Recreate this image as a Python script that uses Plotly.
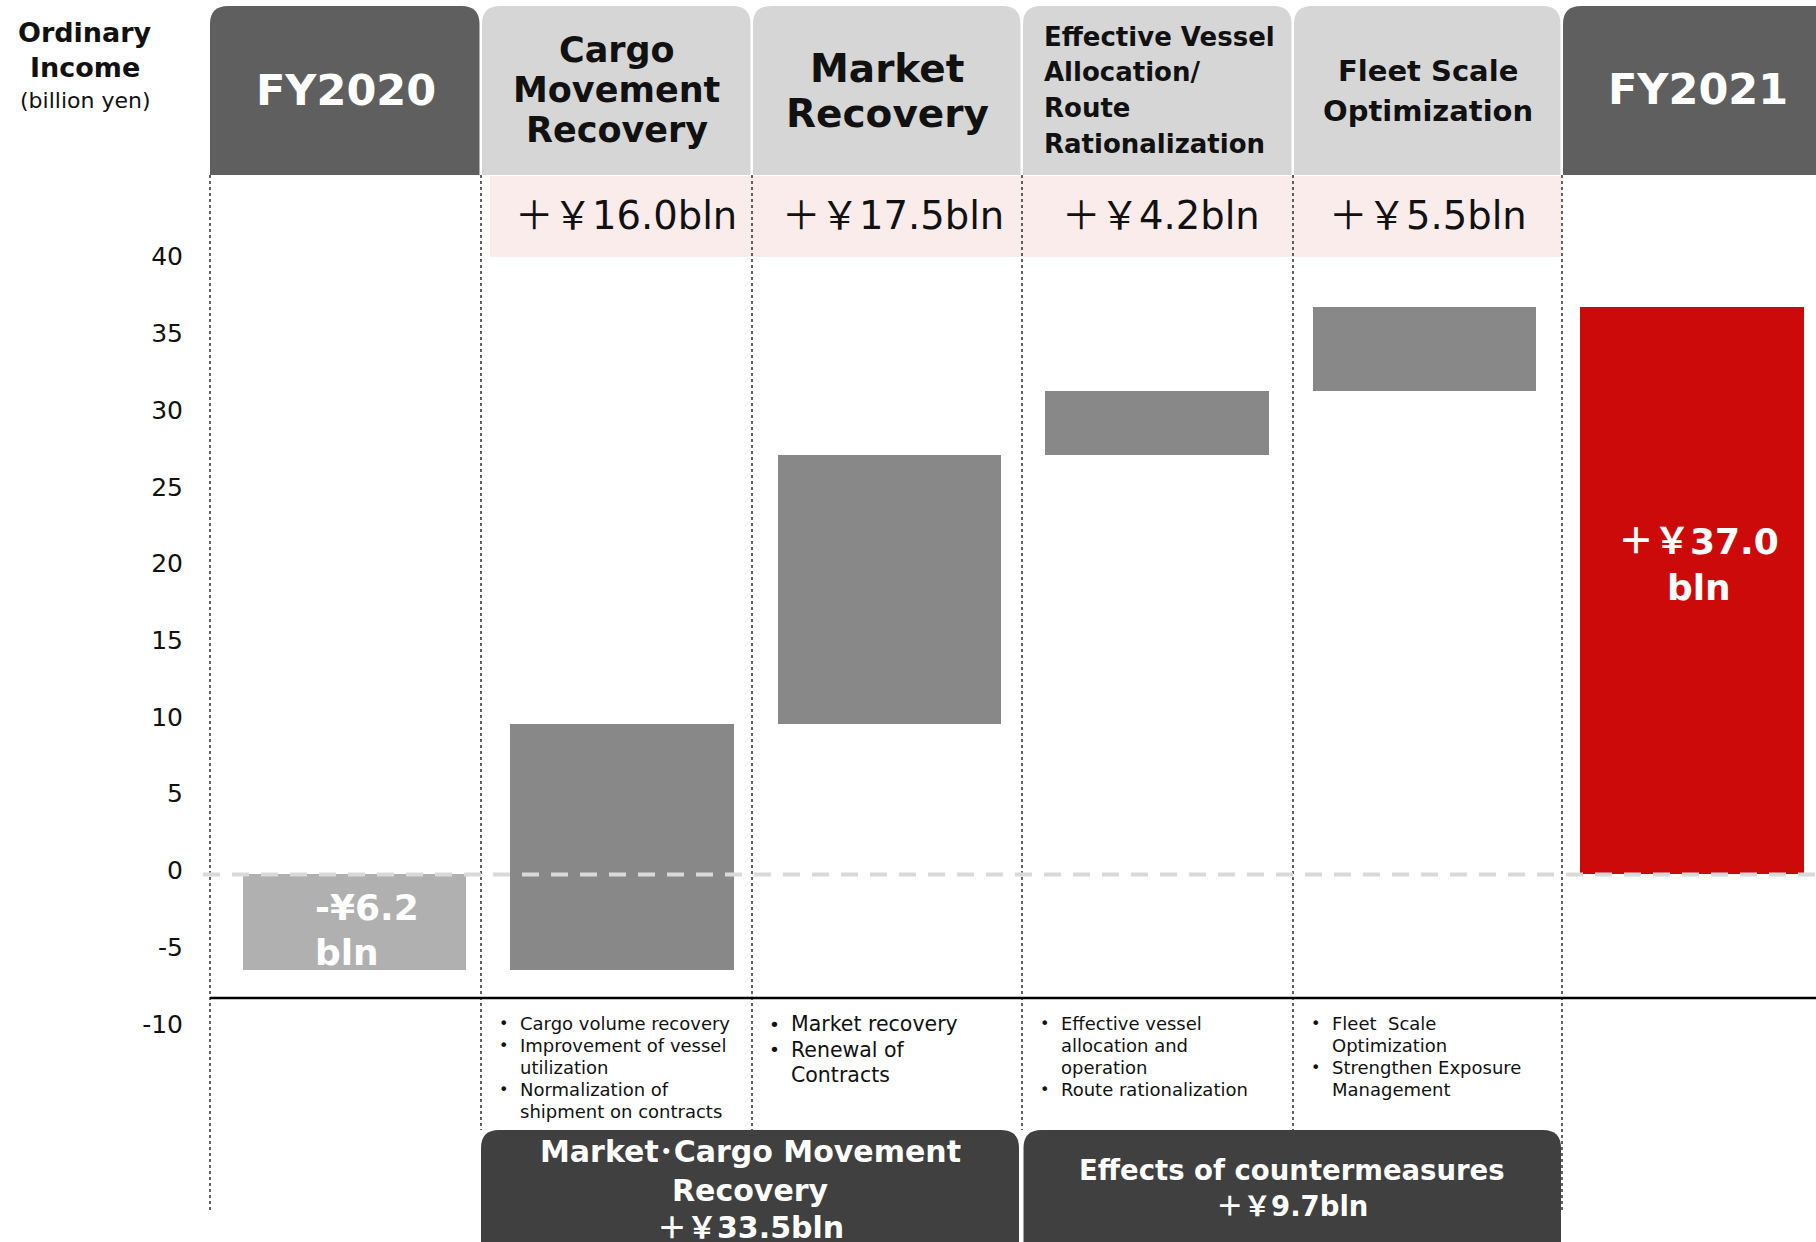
import numpy as np
import plotly.graph_objects as go

W, H = 1816, 1242

# ---------------- data ----------------
categories = ["FY2020", "Cargo Movement Recovery", "Market Recovery",
              "Effective Vessel Allocation/Route Rationalization",
              "Fleet Scale Optimization", "FY2021"]
header_lines = [["FY2020"], ["Cargo", "Movement", "Recovery"], ["Market", "Recovery"],
                ["Effective Vessel", "Allocation/", "Route", "Rationalization"],
                ["Fleet Scale", "Optimization"], ["FY2021"]]
fy2020_value = -6.2
change_values = [16.0, 17.5, 4.2, 5.5]
fy2021_value = 37.0
change_labels = ["＋￥16.0bln", "＋￥17.5bln", "＋￥4.2bln", "＋￥5.5bln"]
fy2020_label = ["-¥6.2", "bln"]
fy2021_label = ["＋￥37.0", "bln"]
bullet_points = [
    [],
    [["Cargo volume recovery"], ["Improvement of vessel", "utilization"],
     ["Normalization of", "shipment on contracts"]],
    [["Market recovery"], ["Renewal of", "Contracts"]],
    [["Effective vessel", "allocation and", "operation"], ["Route rationalization"]],
    [["Fleet  Scale", "Optimization"], ["Strengthen Exposure", "Management"]],
    [],
]
group_labels = [["Market･Cargo Movement", "Recovery", "＋￥33.5bln"],
                ["Effects of countermeasures", "＋￥9.7bln"]]
y_tick_values = [-10, -5, 0, 5, 10, 15, 20, 25, 30, 35, 40]
axis_title_lines = ["Ordinary", "Income", "(billion yen)"]

# ---------------- layout constants ----------------
FONT = "DejaVu Sans, Noto Sans CJK JP, sans-serif"
PLOT_L = 210
PLOT_W = W - PLOT_L
BAR0_PX, BAR_STEP_PX = 354.4, 267.5
X_RANGE = [(PLOT_L - BAR0_PX) / BAR_STEP_PX, (W - BAR0_PX) / BAR_STEP_PX]
Y_ZERO_PX = 874.4
PX_PER_UNIT = 15.346
Y_RANGE = [-(H - Y_ZERO_PX) / PX_PER_UNIT, Y_ZERO_PX / PX_PER_UNIT]
COL_EDGES = [210, 481, 752, 1022, 1293, 1562, 1834]


def PX(p):
    return (p - PLOT_L) / PLOT_W


def PY(p):
    return 1 - p / H


def rounded_top(x0, x1, y0, y1, r):
    return (f"M {PX(x0)},{PY(y1)} L {PX(x0)},{PY(y0 + r)} Q {PX(x0)},{PY(y0)} {PX(x0 + r)},{PY(y0)} "
            f"L {PX(x1 - r)},{PY(y0)} Q {PX(x1)},{PY(y0)} {PX(x1)},{PY(y0 + r)} L {PX(x1)},{PY(y1)} Z")


# ---------------- bars ----------------
changes = np.array(change_values)
cum = fy2020_value + np.cumsum(changes)
bases = [0.0] + list(cum - changes) + [0.0]
values = [fy2020_value] + list(changes) + [fy2021_value]
colors = ["#B0B0B0", "#888888", "#888888", "#888888", "#888888", "#CC0A0A"]
xpos = list(range(len(categories)))

fig = go.Figure()
fig.add_trace(go.Bar(x=xpos, y=values, base=bases, width=223.5 / BAR_STEP_PX,
                     marker=dict(color=colors, line=dict(width=0)),
                     hoverinfo="skip", showlegend=False))

shapes = []
ann = []
E = COL_EDGES

# pink band
shapes.append(dict(type="rect", xref="paper", yref="paper", x0=PX(E[1] + 9), x1=PX(E[5]),
                   y0=PY(257), y1=PY(176), fillcolor="#FBECEC", line=dict(width=0), layer="below"))

# header boxes
hdr_colors = ["#5F5F5F", "#D6D6D6", "#D6D6D6", "#D6D6D6", "#D6D6D6", "#5F5F5F"]
for i in range(6):
    x0 = E[i] + (0 if i == 0 else 1)
    x1 = E[i + 1] - 1.5
    shapes.append(dict(type="path", xref="paper", yref="paper", path=rounded_top(x0, x1, 6, 175, 18),
                       fillcolor=hdr_colors[i], line=dict(width=0)))

# dividers
for i in range(6):
    yb = 1210 if i in (0, 5) else 1130
    shapes.append(dict(type="line", xref="paper", yref="paper", x0=PX(E[i]), x1=PX(E[i]),
                       y0=PY(175), y1=PY(yb), line=dict(color="#222222", width=1.4, dash="dot")))

# bottom group boxes
box_px = [(E[1], E[3] - 3), (E[3] + 1.5, E[5] - 1)]
for (x0, x1) in box_px:
    shapes.append(dict(type="path", xref="paper", yref="paper", path=rounded_top(x0, x1, 1130, H + 30, 18),
                       fillcolor="#404040", line=dict(width=0)))

# black baseline
shapes.append(dict(type="line", xref="paper", yref="paper", x0=0, x1=1, y0=PY(998), y1=PY(998),
                   line=dict(color="#000000", width=2.5)))
# dashed zero line
shapes.append(dict(type="line", xref="paper", yref="y", x0=PX(203), x1=1, y0=0, y1=0,
                   line=dict(color="#D9D9D9", width=4, dash="17px,12px"), layer="above"))

# header texts
hdr_y = [[90], [50, 90, 130], [68, 114], [37, 72, 108, 144], [71, 111], [89]]
hdr_size = [43, 35, 39, 26, 29, 43]
hdr_col = ["#FFFFFF", "#111111", "#111111", "#111111", "#111111", "#FFFFFF"]
for i, lines in enumerate(header_lines):
    for j, line in enumerate(lines):
        if i == 3:
            a = dict(x=PX(E[3] + 20), xanchor="left")
        else:
            a = dict(x=PX((E[i] + E[i + 1]) / 2), xanchor="center")
        a.update(xref="paper", yref="paper", y=PY(hdr_y[i][j]), yanchor="middle", showarrow=False,
                 text=f"<b>{line}</b>", font=dict(family=FONT, size=hdr_size[i], color=hdr_col[i]))
        ann.append(a)

# axis title (top-left)
for line, yy, sz, bold in zip(axis_title_lines, [32, 67, 100], [27, 27, 22], [True, True, False]):
    ann.append(dict(xref="paper", yref="paper", x=PX(85), y=PY(yy), xanchor="center", yanchor="middle",
                    showarrow=False, text=(f"<b>{line}</b>" if bold else line),
                    font=dict(family=FONT, size=sz, color="#111111")))

# change labels in pink band
for k, lab in enumerate(change_labels):
    ann.append(dict(xref="x", yref="paper", x=k + 1, xshift=4, y=PY(215), xanchor="center",
                    yanchor="middle", showarrow=False, text=lab,
                    font=dict(family=FONT, size=38.5, color="#111111")))

# bar labels
for line, yy in zip(fy2020_label, [907, 952]):
    ann.append(dict(xref="x", yref="paper", x=0, xshift=-41, y=PY(yy), xanchor="left", yanchor="middle",
                    showarrow=False, text=f"<b>{line}</b>", font=dict(family=FONT, size=36, color="#FFFFFF")))
for line, yy in zip(fy2021_label, [542, 587]):
    ann.append(dict(xref="x", yref="paper", x=5, xshift=7, y=PY(yy), xanchor="center", yanchor="middle",
                    showarrow=False, text=f"<b>{line}</b>", font=dict(family=FONT, size=36, color="#FFFFFF")))

# bullet texts
b_start = [None, 1023, 1024, 1023, 1023, None]
b_step = [None, 22, 25.5, 22, 22, None]
b_size = [None, 18, 20.5, 18, 18, None]
for i, items in enumerate(bullet_points):
    if not items:
        continue
    n = 0
    for item in items:
        for j, line in enumerate(item):
            yy = b_start[i] + n * b_step[i]
            if j == 0:
                ann.append(dict(xref="paper", yref="paper", x=PX(E[i] + 22), y=PY(yy), xanchor="center",
                                yanchor="middle", showarrow=False, text="•",
                                font=dict(family=FONT, size=b_size[i] - 2, color="#111111")))
            ann.append(dict(xref="paper", yref="paper", x=PX(E[i] + 37), y=PY(yy), xanchor="left",
                            yanchor="middle", showarrow=False, text=line,
                            font=dict(family=FONT, size=b_size[i], color="#111111")))
            n += 1

# group box texts
g_y = [[1151, 1190, 1227], [1170, 1206]]
g_size = [30, 27.5]
for g, lines in enumerate(group_labels):
    cx = (box_px[g][0] + box_px[g][1]) / 2
    for j, line in enumerate(lines):
        ann.append(dict(xref="paper", yref="paper", x=PX(cx), y=PY(g_y[g][j]), xanchor="center",
                        yanchor="middle", showarrow=False, text=f"<b>{line}</b>",
                        font=dict(family=FONT, size=g_size[g], color="#FFFFFF")))

fig.update_layout(
    width=W, height=H, margin=dict(l=PLOT_L, r=0, t=0, b=0),
    paper_bgcolor="white", plot_bgcolor="white",
    shapes=shapes, annotations=ann, showlegend=False,
    xaxis=dict(range=X_RANGE, visible=False, fixedrange=True),
    yaxis=dict(range=Y_RANGE, tickvals=y_tick_values, ticktext=[str(v) for v in y_tick_values],
               showgrid=False, zeroline=False, showline=False, ticks="",
               tickfont=dict(family=FONT, size=25, color="#111111"), ticklabelstandoff=26,
               ticklabelshift=-4, fixedrange=True),
    bargap=0,
)

fig.write_html("out.html")
